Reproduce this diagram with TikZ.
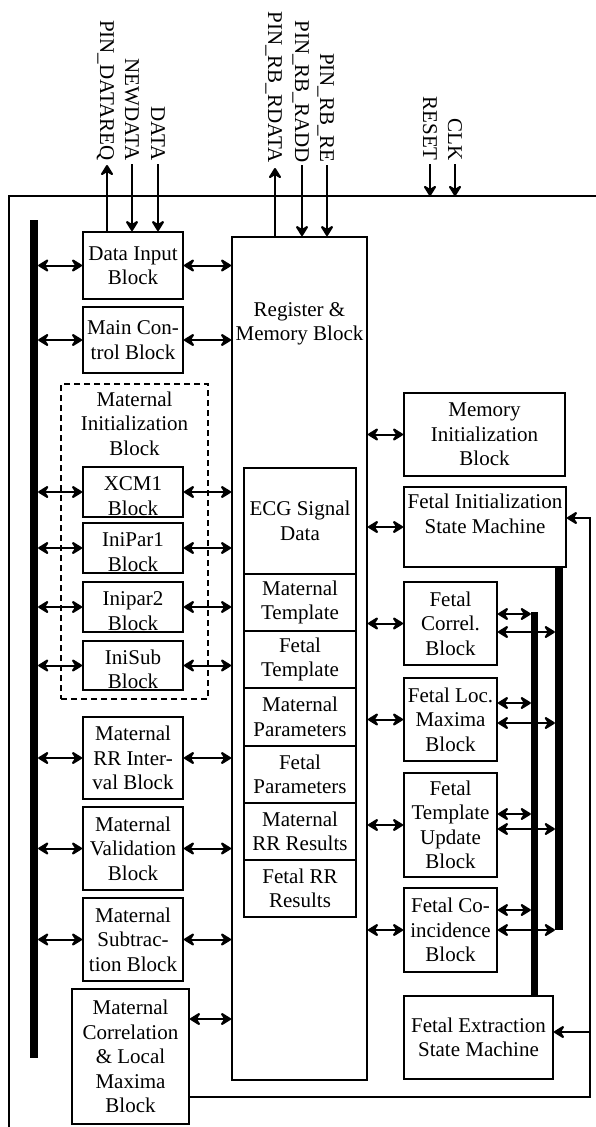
\documentclass[tikz,border=0pt]{standalone}
\usepackage{fontspec}
\setmainfont{Liberation Serif}
\usetikzlibrary{arrows.meta}
\begin{document}
\begin{tikzpicture}[x=1pt,y=-1pt,
  font=\fontsize{21}{24.5}\selectfont,
  box/.style={draw, line width=1.8pt, align=center, inner sep=0pt},
  bus/.style={fill=black, draw=none, inner sep=0pt},
  lnk/.style={line width=2pt},
  tipS/.tip={Stealth[length=13pt,width=16pt,inset=5pt,round]},
  arr/.style={lnk, -tipS},
  darr/.style={lnk, tipS-tipS},
  pin/.style={rotate=-90, anchor=east, inner sep=0pt, text height=14pt, text depth=0pt},
  clipbox/.style 2 args={box, minimum width=100pt, minimum height=#1,
    path picture={\node[align=center,inner sep=0pt] at ([yshift=-4pt]path picture bounding box.center) {#2};}},
]
\useasboundingbox (0,0) rectangle (596,1127);

% outer frame
\coordinate (ftl) at (9,196);
\draw[line width=1.5pt] (9,1130) -- (ftl) -- (600,196);

% buses
\node[bus, minimum width=8pt, minimum height=838pt] (busL) at (34,639) {};
\node[bus, minimum width=7pt, minimum height=384pt] (busA) at (534.5,804) {};
\node[bus, minimum width=8pt, minimum height=363pt] (busB) at (559,748.5) {};

% dashed maternal initialization block
\node[draw, dashed, dash pattern=on 6pt off 4pt, line width=1.4pt, minimum width=147pt, minimum height=315pt, inner sep=0pt] (mib) at (134.5,541.5) {};
\node[align=center, inner sep=0pt] (mibT) at (134.5,423.5) {Maternal\\Initialization\\Block};

% left column
\node[box, minimum width=100pt, minimum height=67pt] (din) at (133,265.5) {Data Input\\Block};
\node[box, minimum width=100pt, minimum height=66pt] (mcb) at (133,340) {Main Con-\\trol Block};
\node[clipbox={50pt}{XCM1\\Block}] (xcm) at (133,492) {};
\node[clipbox={50pt}{IniPar1\\Block}] (ip1) at (133,548) {};
\node[clipbox={50pt}{Inipar2\\Block}] (ip2) at (133,607) {};
\node[clipbox={49pt}{IniSub\\Block}] (isb) at (133,665.5) {};
\node[box, minimum width=100pt, minimum height=82pt] (mrr) at (133,758) {Maternal\\RR Inter-\\val Block};
\node[box, minimum width=100pt, minimum height=83pt] (mval) at (133,848.5) {Maternal\\Validation\\Block};
\node[box, minimum width=100pt, minimum height=83pt] (msub) at (133,939.5) {Maternal\\Subtrac-\\tion Block};
\node[box, minimum width=117pt, minimum height=135pt] (mcl) at (130.5,1056.5) {Maternal\\Correlation\\\& Local\\Maxima\\Block};

% register & memory block
\node[box, minimum width=135pt, minimum height=843pt] (reg) at (299.5,658.5) {};
\node[align=center, inner sep=0pt] (regT) at (299.5,324) {Register \&\\Memory Block};
\node[box, minimum width=112pt, minimum height=106pt] (ecg) at (300,521) {ECG Signal\\Data};
\node[box, minimum width=112pt, minimum height=57pt] (mtp) at (300,602.5) {Maternal\\Template};
\node[box, minimum width=112pt, minimum height=57pt] (ftp) at (300,659.5) {Fetal\\Template};
\node[box, minimum width=112pt, minimum height=58pt] (mpa) at (300,717) {Maternal\\Parameters};
\node[box, minimum width=112pt, minimum height=57pt] (fpa) at (300,774.5) {Fetal\\Parameters};
\node[box, minimum width=112pt, minimum height=57pt] (mrs) at (300,831.5) {Maternal\\RR Results};
\node[box, minimum width=112pt, minimum height=57pt] (frs) at (300,888.5) {Fetal RR\\Results};

% right column
\node[box, minimum width=161pt, minimum height=83pt] (mem) at (484.5,434.5) {Memory\\Initialization\\Block};
\node[box, minimum width=162pt, minimum height=80pt] (fism) at (485,527) {};
\node[align=center, inner sep=0pt] (fismT) at (485,514) {Fetal Initialization\\State Machine};
\node[box, minimum width=93pt, minimum height=83pt] (fc) at (450.5,623.5) {Fetal\\Correl.\\Block};
\node[box, minimum width=93pt, minimum height=83pt] (fl) at (450.5,719.5) {Fetal Loc.\\Maxima\\Block};
\node[box, minimum width=93pt, minimum height=104pt] (ftu) at (450.5,825) {Fetal\\Template\\Update\\Block};
\node[box, minimum width=93pt, minimum height=84pt] (fco) at (450.5,930) {Fetal Co-\\incidence\\Block};
\node[box, minimum width=149pt, minimum height=83pt] (fesm) at (478.5,1037.5) {Fetal Extraction\\State Machine};

% left bus and register links
\foreach \n in {din,mcb,xcm,ip1,ip2,isb,mrr,mval,msub}{
  \draw[darr] (busL.east |- \n.west) -- (\n.west);
  \draw[darr] (\n.east) -- (\n.east -| reg.west);
}
\coordinate (mclR) at ([yshift=37.5pt]mcl.east);
\draw[darr] (mclR) -- (mclR -| reg.west);

% register to right column
\foreach \n in {mem,fism,fc,fl,ftu,fco}{
  \draw[darr] (reg.east |- \n.west) -- (\n.west);
}

% fetal blocks to right buses
\coordinate (fcU) at ([yshift=9.5pt]fc.east);
\coordinate (fcD) at ([yshift=-8.5pt]fc.east);
\coordinate (flU) at ([yshift=16.5pt]fl.east);
\coordinate (flD) at ([yshift=-3.5pt]fl.east);
\coordinate (ftuU) at ([yshift=11pt]ftu.east);
\coordinate (ftuD) at ([yshift=-4pt]ftu.east);
\coordinate (fcoU) at ([yshift=20pt]fco.east);
\coordinate (fcoD) at ([yshift=0pt]fco.east);
\foreach \n in {fc,fl,ftu,fco}{
  \draw[darr] (\n U) -- (\n U -| busA.west);
  \draw[darr] (\n D) -- (\n D -| busB.west);
}

% feedback line
\coordinate (fb) at (590,1097);
\coordinate (mclB) at (mcl.east |- fb);
\coordinate (fismR) at ([yshift=9pt]fism.east);
\coordinate (fesmR) at ([yshift=5.5pt]fesm.east);
\draw[arr] (mclB) -- (fb) -- (fb |- fismR) -- (fismR);
\draw[arr] (fb |- fesmR) -- (fesmR);

% pins
\node[pin] (pdreq) at (107,161) {PIN\_DATAREQ};
\node[pin] (ndata) at (132,161) {NEWDATA};
\node[pin] (data) at (158,161) {DATA};
\node[pin] (prd) at (275,163) {PIN\_RB\_RDATA};
\node[pin] (pra) at (302,163) {PIN\_RB\_RADD};
\node[pin] (pre) at (327,163) {PIN\_RB\_RE};
\node[pin] (reset) at (430,161) {RESET};
\node[pin] (clk) at (455,161) {CLK};

\draw[arr] (pdreq.east |- din.north) -- ([yshift=-4pt]pdreq.east);
\draw[arr] ([yshift=-3pt]ndata.east) -- (ndata.east |- din.north);
\draw[arr] ([yshift=-3pt]data.east) -- (data.east |- din.north);
\draw[arr] (prd.east |- reg.north) -- ([yshift=-5pt]prd.east);
\draw[arr] ([yshift=-2pt]pra.east) -- (pra.east |- reg.north);
\draw[arr] ([yshift=-2pt]pre.east) -- (pre.east |- reg.north);
\draw[arr] ([yshift=-3pt]reset.east) -- (reset.east |- ftl);
\draw[arr] ([yshift=-3pt]clk.east) -- (clk.east |- ftl);
\end{tikzpicture}
\end{document}
